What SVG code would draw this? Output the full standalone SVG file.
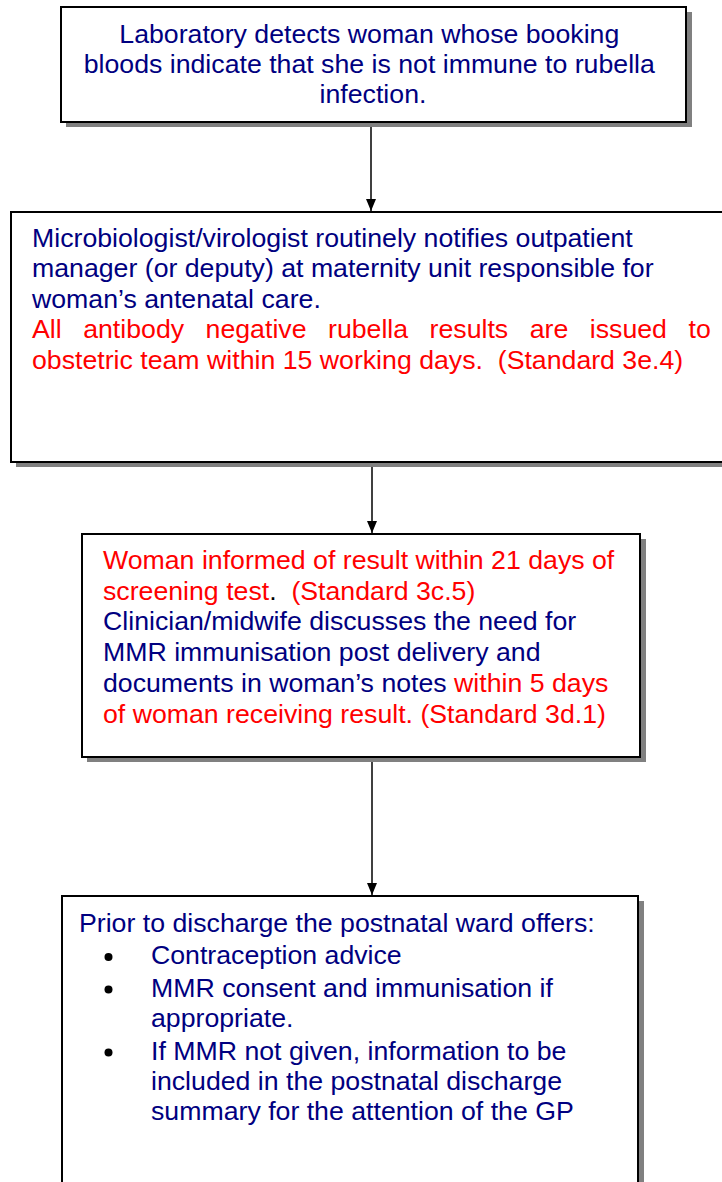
<svg xmlns="http://www.w3.org/2000/svg" width="722" height="1182" viewBox="0 0 722 1182">
  <style>
    text { font-family: "Liberation Sans", Arial, sans-serif; font-size: 26.7px; }
    .b { fill: #000080; }
    .r { fill: #FF0000; }
    .k { fill: #000000; }
    .box { fill: #FFFFFF; stroke: #000000; stroke-width: 2; }
    .shadow { fill: #808080; }
    .conn { stroke: #000000; stroke-width: 1.5; fill: none; }
  </style>
  <defs>
    <!-- arrowhead drawn along +x so orient="auto" turns it down the line -->
    <marker id="arrow" viewBox="0 0 12 10" refX="12" refY="5" markerWidth="12" markerHeight="10" markerUnits="userSpaceOnUse" orient="auto">
      <path d="M0,0 L12,5 L0,10 Z" fill="#000000"/>
    </marker>
  </defs>
  <rect width="722" height="1182" fill="#FFFFFF"/>

  <!-- connectors -->
  <g id="connectors">
    <line class="conn" x1="371" y1="122" x2="371" y2="211" marker-end="url(#arrow)"/>
    <line class="conn" x1="372" y1="462" x2="372" y2="533" marker-end="url(#arrow)"/>
    <line class="conn" x1="372" y1="757" x2="372" y2="895" marker-end="url(#arrow)"/>
  </g>

  <!-- step 1: laboratory -->
  <g id="node-lab">
    <rect class="shadow" x="66" y="12" width="626" height="115"/>
    <rect class="box" x="61" y="7" width="625" height="115"/>
    <text class="b" text-anchor="middle">
      <tspan x="373" y="43">Laboratory detects woman whose booking</tspan>
      <tspan x="373" y="73">bloods indicate that she is not immune to rubella</tspan>
      <tspan x="373" y="102.5">infection.</tspan>
    </text>
  </g>

  <!-- step 2: notification -->
  <g id="node-notify">
    <rect class="shadow" x="16" y="217" width="720" height="250"/>
    <rect class="box" x="11" y="212" width="725" height="250"/>
    <text class="b">
      <tspan x="32" y="246.5">Microbiologist/virologist routinely notifies outpatient</tspan>
      <tspan x="32" y="277">manager (or deputy) at maternity unit responsible for</tspan>
      <tspan x="32" y="307.5">woman’s antenatal care.</tspan>
    </text>
    <!-- justified line: words placed one by one with equal gaps -->
    <text class="r" y="338">
      <tspan x="32">All</tspan><tspan x="83.2">antibody</tspan><tspan x="205.6">negative</tspan><tspan x="328">rubella</tspan><tspan x="429.6">results</tspan><tspan x="529.7">are</tspan><tspan x="589.8">issued</tspan><tspan x="688.5">to</tspan>
    </text>
    <text class="r" x="32" y="368.5" xml:space="preserve">obstetric team within 15 working days.  (Standard 3e.4)</text>
  </g>

  <!-- step 3: woman informed -->
  <g id="node-inform">
    <rect class="shadow" x="87" y="539" width="559" height="223"/>
    <rect class="box" x="82" y="534" width="558" height="223"/>
    <text class="r" x="103" y="569">Woman informed of result within 21 days of</text>
    <text x="103" y="599.5" xml:space="preserve"><tspan class="r">screening test</tspan><tspan class="k">.</tspan><tspan class="r">  (Standard 3c.5)</tspan></text>
    <text class="b" x="103" y="630">Clinician/midwife discusses the need for</text>
    <text class="b" x="103" y="660.5">MMR immunisation post delivery and</text>
    <text x="103" y="691.5" xml:space="preserve"><tspan class="b">documents in woman’s notes </tspan><tspan class="r">within 5 days</tspan></text>
    <text class="r" x="103" y="722.5">of woman receiving result. (Standard 3d.1)</text>
  </g>

  <!-- step 4: postnatal ward -->
  <g id="node-postnatal">
    <rect class="shadow" x="67" y="901" width="577" height="300"/>
    <rect class="box" x="62" y="896" width="576" height="300"/>
    <text class="b" x="79" y="932">Prior to discharge the postnatal ward offers:</text>
    <g class="k">
      <circle cx="108.5" cy="957" r="4"/>
      <circle cx="108.5" cy="989.5" r="4"/>
      <circle cx="108.5" cy="1052.5" r="4"/>
    </g>
    <text class="b">
      <tspan x="151" y="964">Contraception advice</tspan>
      <tspan x="151" y="997">MMR consent and immunisation if</tspan>
      <tspan x="151" y="1026.5">appropriate.</tspan>
      <tspan x="151" y="1060">If MMR not given, information to be</tspan>
      <tspan x="151" y="1090">included in the postnatal discharge</tspan>
      <tspan x="151" y="1120">summary for the attention of the GP</tspan>
    </text>
  </g>
</svg>
